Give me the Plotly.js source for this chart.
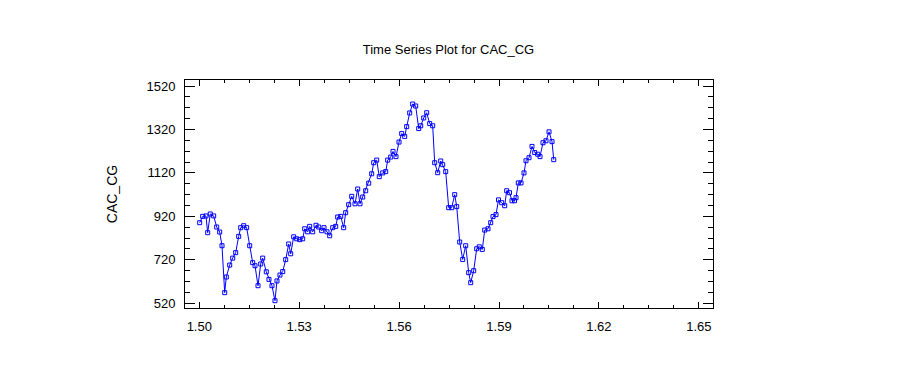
<!DOCTYPE html>
<html>
<head>
<meta charset="utf-8">
<script src="https://cdn.plot.ly/plotly-3.0.1.min.js"></script>
<style>
html,body{margin:0;padding:0;background:#fff;}
#chart{width:897px;height:389px;}
</style>
</head>
<body>
<div id="chart"></div>
<script>
// Time index values (x)
var timeIndex = [
1.50012,1.50102,1.50201,1.50252,1.50330,1.50432,1.50523,1.50613,1.50682,1.50763,
1.50811,1.50913,1.51003,1.51093,1.51183,1.51243,1.51333,1.51423,1.51514,1.51604,
1.51673,1.51763,1.51844,1.51904,1.52012,1.52093,1.52183,1.52273,1.52333,1.52423,
1.52505,1.52595,1.52685,1.52745,1.52835,1.52925,1.53015,1.53105,1.53165,1.53255,
1.53315,1.53405,1.53505,1.53586,1.53676,1.53745,1.53835,1.53916,1.54006,1.54096,
1.54156,1.54246,1.54336,1.54396,1.54486,1.54577,1.54676,1.54757,1.54826,1.54907,
1.54997,1.55087,1.55177,1.55237,1.55327,1.55405,1.55508,1.55598,1.55658,1.55748,
1.55817,1.55907,1.55997,1.56078,1.56168,1.56228,1.56318,1.56408,1.56498,1.56589,
1.56649,1.56739,1.56829,1.56919,1.57009,1.57069,1.57159,1.57249,1.57309,1.57399,
1.57489,1.57580,1.57670,1.57730,1.57820,1.57910,1.58000,1.58090,1.58150,1.58240,
1.58330,1.58408,1.58498,1.58571,1.58670,1.58751,1.58820,1.58910,1.58985,1.59081,
1.59171,1.59231,1.59315,1.59390,1.59465,1.59511,1.59580,1.59661,1.59751,1.59811,
1.59901,1.59991,1.60072,1.60162,1.60231,1.60321,1.60411,1.60502,1.60592,1.60643
];
// CAC_CG series values
var cacCG = [
891,920,922,845,931,922,871,848,785,569,
641,696,728,753,828,868,877,868,785,707,
693,601,701,728,665,630,601,532,623,650,
666,721,793,748,826,817,813,817,863,849,
874,849,879,871,854,868,849,831,868,874,
917,920,868,937,974,1012,978,1046,978,1009,
1038,1073,1116,1167,1179,1103,1120,1126,1179,1193,
1219,1195,1262,1301,1288,1333,1396,1437,1428,1324,
1337,1373,1397,1347,1337,1167,1121,1175,1158,1126,
960,960,1020,965,802,722,785,661,615,670,
771,780,768,857,863,891,919,928,996,983,
969,1038,1029,992,992,1006,1074,1074,1120,1176,
1190,1242,1214,1206,1195,1259,1268,1309,1264,1181
];
var xTickVals = [1.50,1.53,1.56,1.59,1.62,1.65];
var xTickText = ["1.50","1.53","1.56","1.59","1.62","1.65"];
var yTickVals = [520,720,920,1120,1320,1520];
var yTickText = ["520","720","920","1120","1320","1520"];

var trace = {
  x: timeIndex,
  y: cacCG,
  type: 'scatter',
  mode: 'lines+markers',
  line: {color: '#0000ff', width: 1},
  marker: {symbol: 'square-open', size: 4, color: '#0000ff', line: {width: 1, color: '#0000ff'}},
  hoverinfo: 'x+y'
};

var fontFam = 'Liberation Sans, Arial, sans-serif';
var layout = {
  width: 897, height: 389,
  margin: {l: 185, r: 184, t: 80, b: 81},
  paper_bgcolor: '#ffffff',
  plot_bgcolor: '#ffffff',
  showlegend: false,
  font: {family: fontFam, size: 13, color: '#000'},
  title: {text: 'Time Series Plot for CAC_CG', x: 0.5, xanchor: 'center', y: 0.872, yanchor: 'middle',
          font: {family: fontFam, size: 13, color: '#000'}},
  xaxis: {
    range: [1.49571, 1.65426],
    tickmode: 'array', tickvals: xTickVals, ticktext: xTickText,
    ticks: 'inside', ticklen: 6, tickwidth: 1, tickcolor: '#000',
    showline: true, linecolor: '#000', linewidth: 1, mirror: 'ticks',
    showgrid: false, zeroline: false,
    tickfont: {family: fontFam, size: 13, color: '#000'},
    ticklabelstandoff: 6,
    minor: {dtick: 0.0075, tick0: 1.5, ticks: 'inside', ticklen: 3, tickwidth: 1, tickcolor: '#000', showgrid: false}
  },
  yaxis: {
    range: [498.4, 1547.6],
    tickmode: 'array', tickvals: yTickVals, ticktext: yTickText,
    ticks: 'inside', ticklen: 10, tickwidth: 1, tickcolor: '#000',
    showline: true, linecolor: '#000', linewidth: 1, mirror: 'ticks',
    showgrid: false, zeroline: false,
    tickfont: {family: fontFam, size: 13, color: '#000'},
    ticklabelstandoff: 6,
    title: {text: 'CAC_CG', font: {family: fontFam, size: 14, color: '#000'}, standoff: 25},
    minor: {dtick: 50, tick0: 520, ticks: 'inside', ticklen: 5, tickwidth: 1, tickcolor: '#000', showgrid: false}
  }
};

Plotly.newPlot('chart', [trace], layout, {displayModeBar: false, staticPlot: true});
</script>
</body>
</html>
